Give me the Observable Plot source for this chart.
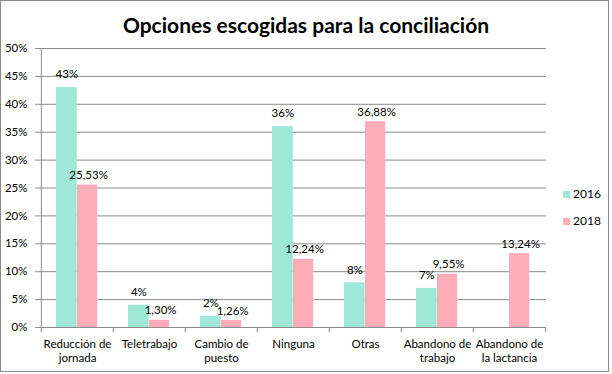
<!DOCTYPE html>
<html>
<head>
<meta charset="utf-8">
<script src="https://cdn.jsdelivr.net/npm/d3@7"></script>
<script src="https://cdn.jsdelivr.net/npm/@observablehq/plot@0.6"></script>
<style>
  html, body { margin: 0; padding: 0; background: #fff; }
  #wrap { position: relative; width: 612px; height: 374px; overflow: hidden; }
  #border { position: absolute; left: 0; top: 0; width: 607px; height: 370px; border: 1px solid #8a8a8a; }
  #title { position: absolute; left: 0; width: 612px; top: 12px; text-align: center;
           font-family: Lato, sans-serif; font-weight: bold; font-size: 21px; color: #000; }
  #chart { position: absolute; left: 0; top: 0; }
  .leg { position: absolute; left: 563px; font-family: Lato, sans-serif; font-size: 12px; color: #000; }
  .leg span.sw { display: inline-block; width: 7px; height: 7px; margin-right: 3px; }
</style>
</head>
<body>
<div id="wrap">
  <div id="border"></div>
  <div id="chart"></div>
  <div id="title">Opciones escogidas para la conciliación</div>
  <div id="legend"></div>
</div>
<script>
const categories = ["Reducción de jornada", "Teletrabajo", "Cambio de puesto", "Ninguna", "Otras", "Abandono de trabajo", "Abandono de la lactancia"];
const tickLabels = ["Reducción de\njornada", "Teletrabajo", "Cambio de\npuesto", "Ninguna", "Otras", "Abandono de\ntrabajo", "Abandono de\nla lactancia"];
const years = ["2016", "2018"];
const values2016 = [43, 4, 2, 36, 8, 7, null];
const values2018 = [25.53, 1.30, 1.26, 12.24, 36.88, 9.55, 13.24];
const labels2016 = ["43%", "4%", "2%", "36%", "8%", "7%", null];
const labels2018 = ["25,53%", "1,30%", "1,26%", "12,24%", "36,88%", "9,55%", "13,24%"];
const yTicks = [0, 5, 10, 15, 20, 25, 30, 35, 40, 45, 50];
const colors = ["#9fe8d8", "#ffacb9"];

const W = 612, H = 374;
const mL = 40, mR = 66, mT = 48, mB = 47;
const bw = (W - mL - mR) / categories.length;

const d16 = categories.map((c, i) => ({cat: c, v: values2016[i], lab: labels2016[i]})).filter(d => d.v != null);
const d18 = categories.map((c, i) => ({cat: c, v: values2018[i], lab: labels2018[i]})).filter(d => d.v != null);
const labelMap = new Map(categories.map((c, i) => [c, tickLabels[i]]));

const tealL = 15, tealR = 36, pinkL = 36, pinkR = 56.5;
const font = "Lato, sans-serif";
const fs = 11.5;

const plot = Plot.plot({
  width: W, height: H,
  marginLeft: mL, marginRight: mR, marginTop: mT, marginBottom: mB,
  style: {fontFamily: font, fontSize: fs + "px", color: "#000", background: "transparent"},
  x: {domain: categories, padding: 0, axis: null},
  y: {domain: [0, 50], axis: null},
  marks: [
    Plot.gridY(yTicks, {stroke: "#8c8c8c", strokeOpacity: 1}),
    Plot.barY(d16, {x: "cat", y: "v", fill: colors[0], insetLeft: tealL, insetRight: bw - tealR}),
    Plot.barY(d18, {x: "cat", y: "v", fill: colors[1], insetLeft: pinkL, insetRight: bw - pinkR}),
    Plot.ruleY([0], {stroke: "#8c8c8c"}),
    Plot.ruleX([categories[0]], {x: d => d, y1: 0, y2: 50, dx: -bw / 2, stroke: "#8c8c8c"}),
    Plot.ruleX(categories, {x: d => d, y1: 0, y2: -0.95, dx: -bw / 2, stroke: "#8c8c8c"}),
    Plot.ruleX([categories[categories.length - 1]], {x: d => d, y1: 0, y2: -0.95, dx: bw / 2, stroke: "#8c8c8c"}),
    Plot.tickY(yTicks, {y: d => d, x: categories[0], dx: -bw / 2 - 2.5, stroke: "#8c8c8c"}),
    Plot.text(d16, {x: "cat", y: "v", text: "lab", dx: (tealL + tealR) / 2 - bw / 2, dy: -13, fontSize: fs, fill: "#000"}),
    Plot.text(d18, {x: "cat", y: "v", text: "lab", dx: (pinkL + pinkR) / 2 - bw / 2 + 1, dy: -9.5, fontSize: fs, fill: "#000"}),
    Plot.axisY(yTicks, {anchor: "left", label: null, tickSize: 5, tickPadding: 8, tickFormat: d => d + "%", stroke: "#8c8c8c", fontSize: fs}),
    Plot.axisX({anchor: "bottom", label: null, tickSize: 0, tickPadding: 10, tickFormat: d => labelMap.get(d), lineAnchor: "top", lineHeight: 1.25, fontSize: fs})
  ]
});
document.getElementById("chart").appendChild(plot);

const legend = document.getElementById("legend");
years.forEach((y, i) => {
  const el = document.createElement("div");
  el.className = "leg";
  el.style.top = (186 + i * 27) + "px";
  el.innerHTML = `<span class="sw" style="background:${colors[i]}"></span>${y}`;
  legend.appendChild(el);
});
</script>
</body>
</html>
